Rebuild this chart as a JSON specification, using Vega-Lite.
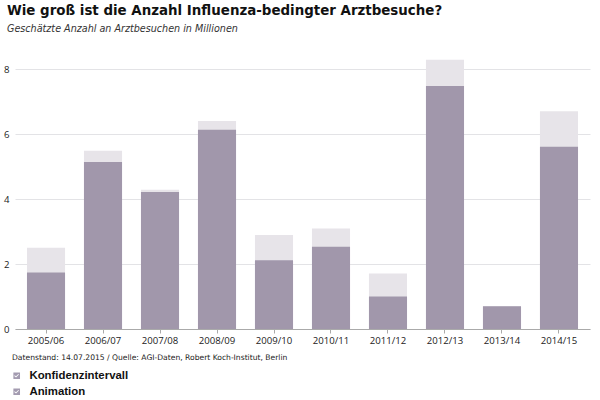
{
  "$schema": "https://vega.github.io/schema/vega-lite/v6.json",
  "width": 575,
  "height": 269,
  "autosize": {"type": "none"},
  "padding": {"left": 15, "top": 60, "right": 10, "bottom": 71},
  "background": "white",
  "title": {
    "text": "Wie groß ist die Anzahl Influenza-bedingter Arztbesuche?",
    "subtitle": "Geschätzte Anzahl an Arztbesuchen in Millionen",
    "anchor": "start",
    "frame": "group",
    "dx": -8,
    "offset": 26,
    "font": "DejaVu Sans",
    "fontSize": 13.4,
    "fontWeight": "bold",
    "color": "#111",
    "subtitleFont": "DejaVu Sans",
    "subtitleFontSize": 9.6,
    "subtitleFontStyle": "italic",
    "subtitleColor": "#333",
    "subtitlePadding": 7
  },
  "data": {
    "values": [
      {"season": "2005/06", "value": 1.74, "upper": 2.5},
      {"season": "2006/07", "value": 5.14, "upper": 5.49},
      {"season": "2007/08", "value": 4.22, "upper": 4.29},
      {"season": "2008/09", "value": 6.13, "upper": 6.4},
      {"season": "2009/10", "value": 2.12, "upper": 2.89},
      {"season": "2010/11", "value": 2.53, "upper": 3.09},
      {"season": "2011/12", "value": 1.0, "upper": 1.71},
      {"season": "2012/13", "value": 7.48, "upper": 8.29},
      {"season": "2013/14", "value": 0.7, "upper": 0.7},
      {"season": "2014/15", "value": 5.61, "upper": 6.7}
    ]
  },
  "layer": [
    {
      "mark": {"type": "bar", "color": "#e7e4e9"},
      "encoding": {
        "x": {
          "field": "season",
          "type": "ordinal",
          "sort": null,
          "scale": {"paddingInner": 0.332, "paddingOuter": 0.21},
          "axis": {
            "title": "Datenstand: 14.07.2015 / Quelle: AGI-Daten, Robert Koch-Institut, Berlin",
            "titleAnchor": "start",
            "titleX": -3.5,
            "titleY": 28,
            "titleBaseline": "middle",
            "titleFont": "DejaVu Sans",
            "titleFontSize": 7.6,
            "titleFontWeight": "normal",
            "titleColor": "#222",
            "labelAngle": 0,
            "labelFont": "Open Sans",
            "labelFontSize": 9.6,
            "labelColor": "#222",
            "labelPadding": 2,
            "domainColor": "#aaa",
            "tickColor": "#aaa",
            "tickSize": 4
          }
        },
        "y": {
          "field": "upper",
          "type": "quantitative",
          "scale": {"domain": [0, 8.28], "nice": false},
          "axis": {
            "title": null,
            "values": [0, 2, 4, 6, 8],
            "domain": false,
            "ticks": false,
            "labelPadding": 6,
            "labelFont": "Open Sans",
            "labelFontSize": 9.6,
            "labelColor": "#222",
            "gridColor": "#e3e3e6"
          }
        }
      }
    },
    {
      "mark": {"type": "bar", "color": "#a197ab"},
      "encoding": {
        "x": {"field": "season", "type": "ordinal", "sort": null},
        "y": {"field": "value", "type": "quantitative"}
      }
    },
    {
      "data": {"values": [{"option": "Konfidenzintervall"}, {"option": "Animation"}]},
      "mark": {"type": "bar", "strokeWidth": 0},
      "encoding": {
        "y": {"datum": 0, "type": "quantitative"},
        "color": {
          "field": "option",
          "type": "nominal",
          "scale": {"domain": ["Konfidenzintervall", "Animation"], "range": ["#a39bb0", "#a39bb0"]},
          "legend": {
            "title": null,
            "orient": "none",
            "legendX": -4,
            "legendY": 310,
            "padding": 0,
            "symbolType": "M-1,-1L1,-1L1,1L-1,1ZM-0.62,-0.12L-0.75,0.08L-0.2,0.55L0.68,-0.35L0.5,-0.55L-0.2,0.2Z",
            "symbolSize": 44,
            "symbolStrokeWidth": 0,
            "symbolOpacity": 1,
            "rowPadding": 3,
            "labelFont": "Liberation Sans",
            "labelFontSize": 11.4,
            "labelFontWeight": "bold",
            "labelColor": "#111",
            "labelOffset": 7
          }
        }
      }
    }
  ],
  "config": {"view": {"stroke": null}}
}
